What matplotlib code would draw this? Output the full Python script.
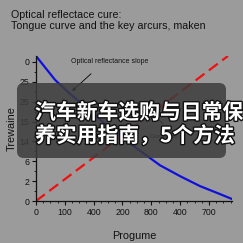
import matplotlib.pyplot as plt
import matplotlib.patheffects as pe
from matplotlib.patches import FancyBboxPatch
from matplotlib.ticker import MultipleLocator

plt.rcParams["font.family"] = ["Liberation Sans", "DejaVu Sans"]

# data
blue_x = [0, 66, 118, 222, 326, 378, 430, 500, 569, 638, 680]
blue_y = [7.3, 6.1, 5.4, 4.1, 2.9, 2.35, 1.8, 1.25, 0.75, 0.35, 0.1]
red_x = [0, 666]
red_y = [0, 7.3]

x_ticks = [0, 100, 200, 300, 400, 500, 600]
x_labels = ["0", "100", "400", "200", "800", "400", "700"]
y_ticks = [0, 1, 2, 3, 4, 5, 6, 7]
y_labels = ["0", "2", "6", "14", "15", "25", "25", "0"]

title = "Optical reflectace cure:\nTongue curve and the key arcurs, maken"
overlay = "汽车新车选购与日常保\n养实用指南，5个方法"

bg = "#9b9b9b"
W = 243.0

fig = plt.figure(figsize=(2.43, 2.43), dpi=100, facecolor=bg)
ax = fig.add_axes([36 / W, 1 - 201 / W, 196 / W, 145 / W], facecolor=bg)

ax.plot(red_x, red_y, color="#ee1111", lw=1.6, dashes=(5, 2.5), solid_capstyle="butt")
ax.plot(blue_x, blue_y, color="#1010dd", lw=1.6)

ax.set_xlim(0, 680)
ax.set_ylim(0, 7.3)
ax.set_xticks(x_ticks)
ax.set_xticklabels(x_labels)
ax.set_yticks(y_ticks)
ax.set_yticklabels(y_labels)
ax.xaxis.set_minor_locator(MultipleLocator(25))
ax.yaxis.set_minor_locator(MultipleLocator(0.5))
ax.tick_params(which="major", length=3, width=0.8, labelsize=6.3, pad=2, colors="#111111")
ax.tick_params(which="minor", length=1.5, width=0.6, colors="#111111")
for s in ["top", "right"]:
    ax.spines[s].set_visible(False)
for s in ["left", "bottom"]:
    ax.spines[s].set_linewidth(0.9)
    ax.spines[s].set_color("#111111")

ax.set_xlabel("Progume", fontsize=7.8, labelpad=10, color="#111111")
ax.set_ylabel("Trewaine", fontsize=7.8, labelpad=2, color="#111111")

# annotations
ax.text(121, 7.0, "Optical reflectance slope", fontsize=5, va="center", color="#111111")
ax.annotate("", xy=(118, 5.44), xytext=(198, 6.5),
            arrowprops=dict(arrowstyle="-|>", color="black", lw=0.6, mutation_scale=5))
ax.text(395, 3.25, "Crossover", fontsize=4.5, va="center", color="#111111")
ax.plot([440, 400], [3.9, 4.45], color="black", lw=0.6)

fig.text(11 / W, 1 - 20.5 / W, title, fontsize=7.7, va="center", ha="left",
         color="#111111", linespacing=1.2)

# dark rounded caption box over the chart
box = FancyBboxPatch((17 / W, 1 - 158 / W), 209 / W, 75 / W,
                     boxstyle="round,pad=0,rounding_size=0.028",
                     transform=fig.transFigure, facecolor="#3c3c3c", alpha=0.85,
                     edgecolor="none", zorder=10)
fig.add_artist(box)
fig.text(35 / W, 1 - 124 / W, overlay, fontsize=15, fontweight="bold",
         family=["Noto Sans CJK SC", "DejaVu Sans"], color="white",
         va="center", ha="left", linespacing=1.12, zorder=11,
         path_effects=[pe.withStroke(linewidth=2, foreground="#111111")])

fig.savefig("out.png", dpi=100, facecolor=bg)
